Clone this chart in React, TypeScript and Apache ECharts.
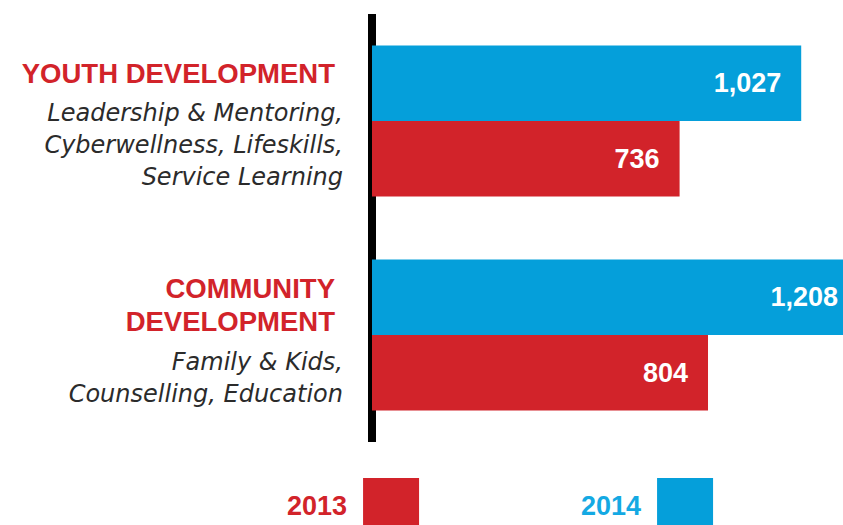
import React, { useEffect, useRef } from 'react';
import * as echarts from 'echarts';

const categories = ['Youth Development', 'Community Development'];
const headerLines = [['YOUTH DEVELOPMENT'], ['COMMUNITY', 'DEVELOPMENT']];
const programmeLines = [
  ['Leadership & Mentoring,', 'Cyberwellness, Lifeskills,', 'Service Learning'],
  ['Family & Kids,', 'Counselling, Education'],
];
const seriesNames = ['2014', '2013'];
const values2014 = [1027, 1208];
const values2013 = [736, 804];
const legendOrder = ['2013', '2014'];

const W = 843;
const H = 525;
const RED = '#d2232a';
const BLUE = '#059fda';
const GRID_LEFT = 372;
const X_MAX = 1127;

export default function App() {
  const ref = useRef<HTMLDivElement>(null);
  useEffect(() => {
    if (!ref.current) return;
    const chart = echarts.init(ref.current, undefined, { renderer: 'svg' });
    const gridWidth = W - GRID_LEFT;
    const pxPerUnit = gridWidth / X_MAX;
    const mkData = (vals: number[]) =>
      vals.map((v) => {
        const end = GRID_LEFT + v * pxPerUnit;
        const dist = end > W ? 5 : 20;
        return { value: v, label: { distance: dist } };
      });
    const labelStyle = {
      show: true,
      position: 'insideRight',
      color: '#fff',
      fontFamily: 'Liberation Sans, Arial, sans-serif',
      fontWeight: 'bold',
      fontSize: 27,
      formatter: (p: any) => Number(p.value).toLocaleString('en-US'),
    };
    const legendBase = {
      top: 473,
      align: 'right',
      icon: 'rect',
      itemWidth: 56,
      itemHeight: 56,
      selectedMode: false,
    };
    const legendText = {
      fontFamily: 'Liberation Sans, Arial, sans-serif',
      fontWeight: 'bold',
      fontSize: 27,
      padding: [6, 11, 0, 0],
    };
    chart.setOption({
      animation: false,
      grid: { left: GRID_LEFT, right: 0, top: 14, height: 428, containLabel: false },
      xAxis: {
        type: 'value',
        min: 0,
        max: X_MAX,
        show: false,
      },
      yAxis: {
        type: 'category',
        inverse: true,
        data: categories,
        axisLine: { show: true, lineStyle: { color: '#000', width: 8, cap: 'butt' } },
        axisTick: { show: false },
        axisLabel: {
          margin: 29,
          align: 'right',
          formatter: (_v: string, idx: number) => {
            const hs = headerLines[idx];
            const ps = programmeLines[idx];
            const parts: string[] = [];
            if (hs.length === 1) {
              parts.push(`{hd|${hs[0]}}`);
            } else {
              parts.push('{top| }');
              hs.forEach((h) => parts.push(`{hd2|${h}}`));
              parts.push('{gap| }');
            }
            ps.forEach((p) => parts.push(`{it|${p}}`));
            return parts.join('\n');
          },
          rich: {
            hd: {
              fontFamily: 'Liberation Sans, Arial, sans-serif',
              fontWeight: 'bold',
              fontSize: 27.5,
              color: RED,
              lineHeight: 48,
              align: 'right',
              padding: [0, 8, 0, 0],
            },
            hd2: {
              fontFamily: 'Liberation Sans, Arial, sans-serif',
              fontWeight: 'bold',
              fontSize: 27.5,
              color: RED,
              lineHeight: 33,
              align: 'right',
              padding: [0, 8, 0, 0],
            },
            it: {
              fontFamily: 'DejaVu Sans, sans-serif',
              fontStyle: 'italic',
              fontWeight: 'normal',
              fontSize: 24,
              color: '#2b2b2b',
              lineHeight: 32,
              align: 'right',
            },
            gap: { fontSize: 1, lineHeight: 7.5 },
            top: { fontSize: 1, lineHeight: 12 },
          },
        },
      },
      legend: [
        {
          ...legendBase,
          data: [legendOrder[0]],
          left: 282,
          textStyle: { ...legendText, color: RED },
        },
        {
          ...legendBase,
          data: [legendOrder[1]],
          left: 576,
          textStyle: { ...legendText, color: '#14a9e3' },
        },
      ],
      series: [
        {
          name: seriesNames[0],
          type: 'bar',
          data: mkData(values2014),
          itemStyle: { color: BLUE },
          barGap: '0%',
          barCategoryGap: '29.4%',
          label: labelStyle,
        },
        {
          name: seriesNames[1],
          type: 'bar',
          data: mkData(values2013),
          itemStyle: { color: RED },
          barGap: '0%',
          barCategoryGap: '29.4%',
          label: labelStyle,
        },
      ],
    });
    return () => chart.dispose();
  }, []);
  return <div ref={ref} style={{ width: W, height: H, position: 'absolute', left: 0, top: 0 }} />;
}
